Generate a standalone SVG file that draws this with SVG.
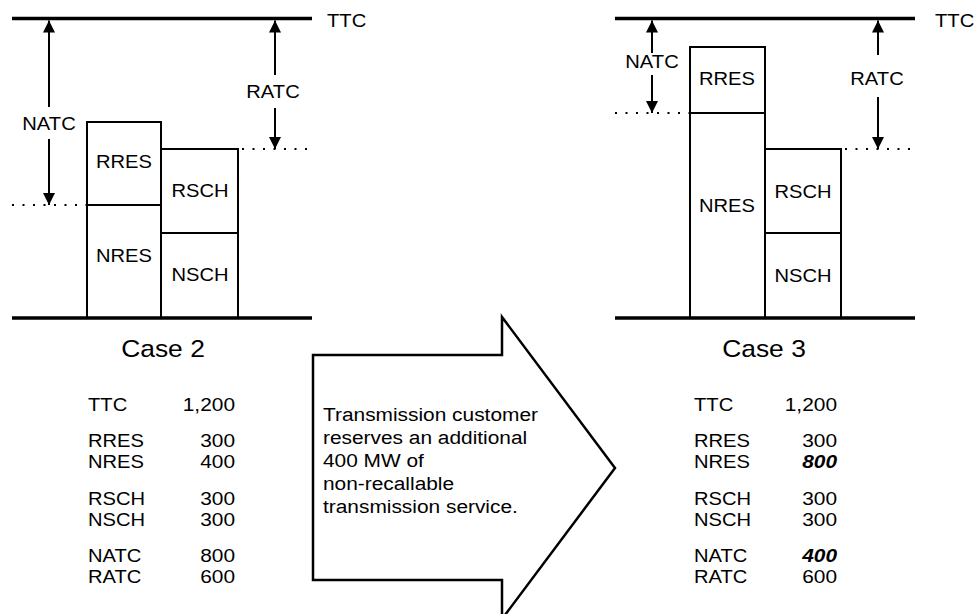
<svg xmlns="http://www.w3.org/2000/svg" width="976" height="614" viewBox="0 0 976 614">
<style>
.t{font-family:"Liberation Sans",Arial,Helvetica,sans-serif;font-size:18px;fill:#000}
.c{font-size:24px}
.m{text-anchor:middle}
.e{text-anchor:end}
.bi{font-weight:bold;font-style:italic}
.thick{stroke:#000;stroke-width:3.5;fill:none}
.box{fill:#fff;stroke:#000;stroke-width:2}
.dot{stroke:#000;stroke-width:2;stroke-dasharray:2 8.5;fill:none}
.shaft{stroke:#000;stroke-width:2;fill:none;marker-end:url(#ah)}
.big{fill:#fff;stroke:#000;stroke-width:2.5;stroke-linejoin:miter}
</style>
<defs>
<marker id="ah" viewBox="0 0 12 12" refX="12" refY="6" markerWidth="12" markerHeight="12" markerUnits="userSpaceOnUse" orient="auto">
<path d="M0,0 L12,6 L0,12 z" fill="#000"/>
</marker>
</defs>
<rect width="976" height="614" fill="#fff"/>

<!-- Case 2 panel -->
<g id="case2">
<g id="c2-rres"><rect class="box" x="87" y="122" width="74" height="83"/><text class="t m" transform="translate(124,168) scale(1.12,1)">RRES</text></g>
<g id="c2-nres"><rect class="box" x="87" y="205" width="74" height="113"/><text class="t m" transform="translate(124,262) scale(1.12,1)">NRES</text></g>
<g id="c2-rsch"><rect class="box" x="161" y="149" width="77" height="84"/><text class="t m" transform="translate(200,197) scale(1.12,1)">RSCH</text></g>
<g id="c2-nsch"><rect class="box" x="161" y="233" width="77" height="85"/><text class="t m" transform="translate(200,281) scale(1.12,1)">NSCH</text></g>
<g id="c2-lines">
<line class="thick" x1="12" y1="18.5" x2="312" y2="18.5"/>
<line class="thick" x1="12" y1="318" x2="312" y2="318"/>
<line class="dot" x1="12" y1="205" x2="87" y2="205"/>
<line class="dot" x1="242" y1="149" x2="312" y2="149"/>
</g>
<text class="t" transform="translate(327,27) scale(1.12,1)">TTC</text>
<text class="t m" transform="translate(49,130) scale(1.12,1)">NATC</text>
<text class="t m" transform="translate(273,98) scale(1.12,1)">RATC</text>
<text class="t c m" transform="translate(163,357) scale(1.1,1)">Case 2</text>
</g>

<!-- Case 3 panel -->
<g id="case3">
<g id="c3-rres"><rect class="box" x="690" y="47" width="75" height="66"/><text class="t m" transform="translate(727,85) scale(1.12,1)">RRES</text></g>
<g id="c3-nres"><rect class="box" x="690" y="113" width="75" height="205"/><text class="t m" transform="translate(727,212) scale(1.12,1)">NRES</text></g>
<g id="c3-rsch"><rect class="box" x="765" y="149" width="76" height="84"/><text class="t m" transform="translate(803,198) scale(1.12,1)">RSCH</text></g>
<g id="c3-nsch"><rect class="box" x="765" y="233" width="76" height="85"/><text class="t m" transform="translate(803,282) scale(1.12,1)">NSCH</text></g>
<g id="c3-lines">
<line class="thick" x1="615" y1="18.5" x2="915" y2="18.5"/>
<line class="thick" x1="615" y1="318" x2="915" y2="318"/>
<line class="dot" x1="615" y1="113" x2="690" y2="113"/>
<line class="dot" x1="845" y1="149" x2="915" y2="149"/>
</g>
<text class="t" transform="translate(935,27) scale(1.12,1)">TTC</text>
<text class="t m" transform="translate(652,68) scale(1.12,1)">NATC</text>
<text class="t m" transform="translate(877,85) scale(1.12,1)">RATC</text>
<text class="t c m" transform="translate(764,357) scale(1.1,1)">Case 3</text>
</g>

<!-- connectors (dimension arrows) -->
<g id="connectors">
<line class="shaft" x1="49" y1="107" x2="49" y2="20.5"/>
<line class="shaft" x1="49" y1="139" x2="49" y2="205"/>
<line class="shaft" x1="275" y1="75" x2="275" y2="20.5"/>
<line class="shaft" x1="275" y1="108" x2="275" y2="149"/>
<line class="shaft" x1="652" y1="53" x2="652" y2="20.5"/>
<line class="shaft" x1="652" y1="75" x2="652" y2="113"/>
<line class="shaft" x1="878" y1="55" x2="878" y2="20.5"/>
<line class="shaft" x1="878" y1="97" x2="878" y2="149"/>
</g>

<!-- big transition arrow -->
<g id="transition">
<path class="big" d="M313,355 L502,355 L502,317 L615,468 L502,619 L502,580 L313,580 Z"/>
<text class="t" transform="translate(323,421) scale(1.16,1)">Transmission customer</text>
<text class="t" transform="translate(323,444) scale(1.16,1)">reserves an additional</text>
<text class="t" transform="translate(323,467) scale(1.16,1)">400 MW of</text>
<text class="t" transform="translate(323,490) scale(1.16,1)">non-recallable</text>
<text class="t" transform="translate(323,513) scale(1.16,1)">transmission service.</text>
</g>

<!-- Case 2 table -->
<g id="table2">
<text class="t" transform="translate(88,411) scale(1.12,1)">TTC</text><text class="t e" transform="translate(235,411) scale(1.16,1)">1,200</text>
<text class="t" transform="translate(88,447) scale(1.12,1)">RRES</text><text class="t e" transform="translate(235,447) scale(1.16,1)">300</text>
<text class="t" transform="translate(88,468) scale(1.12,1)">NRES</text><text class="t e" transform="translate(235,468) scale(1.16,1)">400</text>
<text class="t" transform="translate(88,505) scale(1.12,1)">RSCH</text><text class="t e" transform="translate(235,505) scale(1.16,1)">300</text>
<text class="t" transform="translate(88,526) scale(1.12,1)">NSCH</text><text class="t e" transform="translate(235,526) scale(1.16,1)">300</text>
<text class="t" transform="translate(88,562) scale(1.12,1)">NATC</text><text class="t e" transform="translate(235,562) scale(1.16,1)">800</text>
<text class="t" transform="translate(88,583) scale(1.12,1)">RATC</text><text class="t e" transform="translate(235,583) scale(1.16,1)">600</text>
</g>

<!-- Case 3 table -->
<g id="table3">
<text class="t" transform="translate(694,411) scale(1.12,1)">TTC</text><text class="t e" transform="translate(837,411) scale(1.16,1)">1,200</text>
<text class="t" transform="translate(694,447) scale(1.12,1)">RRES</text><text class="t e" transform="translate(837,447) scale(1.16,1)">300</text>
<text class="t" transform="translate(694,468) scale(1.12,1)">NRES</text><text class="t e bi" transform="translate(837,468) scale(1.16,1)">800</text>
<text class="t" transform="translate(694,505) scale(1.12,1)">RSCH</text><text class="t e" transform="translate(837,505) scale(1.16,1)">300</text>
<text class="t" transform="translate(694,526) scale(1.12,1)">NSCH</text><text class="t e" transform="translate(837,526) scale(1.16,1)">300</text>
<text class="t" transform="translate(694,562) scale(1.12,1)">NATC</text><text class="t e bi" transform="translate(837,562) scale(1.16,1)">400</text>
<text class="t" transform="translate(694,583) scale(1.12,1)">RATC</text><text class="t e" transform="translate(837,583) scale(1.16,1)">600</text>
</g>
</svg>
